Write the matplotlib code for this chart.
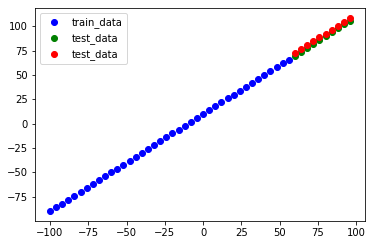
import numpy as np
import matplotlib
matplotlib.use("Agg")
import matplotlib.pyplot as plt

X_train = [-100, -96, -92, -88, -84, -80, -76, -72, -68, -64,
           -60, -56, -52, -48, -44, -40, -36, -32, -28, -24,
           -20, -16, -12, -8, -4, 0, 4, 8, 12, 16,
           20, 24, 28, 32, 36, 40, 44, 48, 52, 56]
y_train = [-90, -86, -82, -78, -74, -70, -66, -62, -58, -54,
           -50, -46, -42, -38, -34, -30, -26, -22, -18, -14,
           -10, -6, -2, 2, 6, 10, 14, 18, 22, 26,
           30, 34, 38, 42, 46, 50, 54, 58, 62, 66]
X_test = [60, 64, 68, 72, 76, 80, 84, 88, 92, 96]
y_test = [70, 74, 78, 82, 86, 90, 94, 98, 102, 106]
y_pred = [72.4, 76.5, 80.5, 84.6, 88.7, 92.7, 96.8, 100.9, 104.9, 109.0]

fig = plt.figure(figsize=(372 / 72, 245 / 72), dpi=72)
ax = fig.add_axes([35 / 372, 24 / 245, 330 / 372, 213 / 245])
ax.scatter(X_train, y_train, c='b', label='train_data')
ax.scatter(X_test, y_test, c='g', label='test_data')
ax.scatter(X_test, y_pred, c='r', label='test_data')
ax.legend(loc='upper left')
fig.savefig('out.png', dpi=72)
